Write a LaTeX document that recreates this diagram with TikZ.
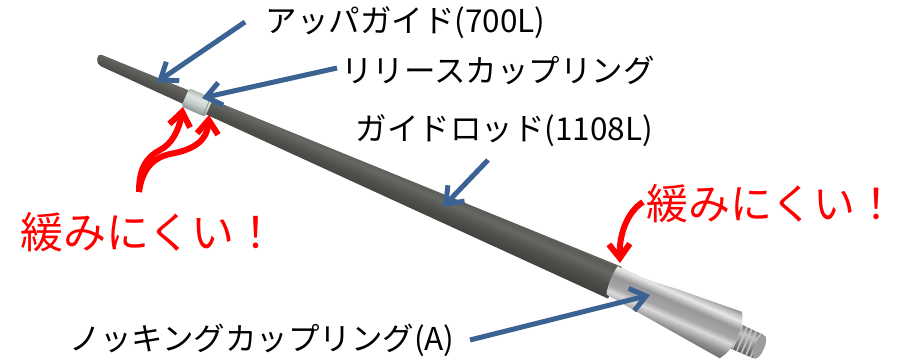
\documentclass[tikz,border=0pt]{standalone}
\usepackage{fontspec}
\newfontfamily\jp{Noto Sans CJK JP}
\usetikzlibrary{arrows.meta}
\definecolor{arrblue}{HTML}{3A6292}
\definecolor{arrred}{HTML}{FF0000}
% carbon rod colours
\definecolor{cA}{HTML}{3F403D}
\definecolor{cB}{HTML}{4F504C}
\definecolor{cC}{HTML}{676864}
\definecolor{cD}{HTML}{5B5C58}
\definecolor{cE}{HTML}{62635F}
% ring colours
\definecolor{rA}{HTML}{8A9593}
\definecolor{rB}{HTML}{C6D0CE}
\definecolor{rC}{HTML}{DEE5E3}
\definecolor{rD}{HTML}{AEB8B6}
% metal colours
\definecolor{mA}{HTML}{6E6E6E}
\definecolor{mB}{HTML}{8C8C8C}
\definecolor{mC}{HTML}{DADADA}
\definecolor{mD}{HTML}{A6A6A6}
\definecolor{mE}{HTML}{989898}
\definecolor{mF}{HTML}{E8E8E8}
\definecolor{mG}{HTML}{B4B4B4}
\definecolor{mH}{HTML}{8E8E8E}
% thread colours
\definecolor{tA}{HTML}{5A5A5A}
\definecolor{tB}{HTML}{9C9C9C}
\definecolor{tC}{HTML}{C4C4C4}
\definecolor{tD}{HTML}{6E6E6E}
\pgfdeclareverticalshading{carbon}{100bp}{color(0bp)=(cA); color(25bp)=(cA); color(45bp)=(cB); color(60bp)=(cC); color(70bp)=(cD); color(75bp)=(cE); color(100bp)=(cE)}
\pgfdeclareverticalshading{ring}{100bp}{color(0bp)=(rA); color(25bp)=(rA); color(45bp)=(rB); color(60bp)=(rC); color(75bp)=(rD); color(100bp)=(rD)}
\pgfdeclareverticalshading{metal}{100bp}{color(0bp)=(mA); color(25bp)=(mA); color(32bp)=(mB); color(42bp)=(mC); color(48bp)=(mD); color(58bp)=(mE); color(66bp)=(mF); color(72bp)=(mG); color(75bp)=(mH); color(100bp)=(mH)}
\pgfdeclareverticalshading{thread}{100bp}{color(0bp)=(tA); color(25bp)=(tA); color(50bp)=(tB); color(60bp)=(tC); color(75bp)=(tD); color(100bp)=(tD)}
\tikzset{
  lbl/.style={font=\jp\fontsize{31.5}{36}\selectfont, inner sep=0pt, text=black, anchor=west},
  redlbl/.style={font=\jp\fontsize{43}{48}\selectfont, inner sep=0pt, text=arrred, anchor=west},
  redlblr/.style={font=\jp\fontsize{42}{48}\selectfont, inner sep=0pt, text=arrred, anchor=west},
  bluearr/.style={draw=arrblue, line width=5pt, -{Straight Barb[length=15pt,width=23pt]}},
  redarr/.style={draw=arrred, line width=6pt, -{Straight Barb[length=14pt,width=21pt]}},
  ridge/.style={draw=tC, line width=1.6pt},
  ringline/.style={draw=rA, line width=0.8pt},
}
\begin{document}
\begin{tikzpicture}[x=1pt,y=-1pt]
\fill[white] (0,0) rectangle (899,360);
\useasboundingbox (0,0) rectangle (899,360);

% ---- the rod, drawn in a frame along its axis ----
\begin{scope}[transform canvas={shift={(99,60)},rotate=-23.4}]
  \shade[shading=carbon] (0,-5.8) -- (562,-17.8) -- (562,16.8) -- (4,5)
        .. controls (-2,5.2) and (-5,-5.6) .. (0,-5.8);
  \shade[shading=ring, rounded corners=2.5pt] (94,-10) rectangle (120,10);
  \draw[ringline] (117.5,-9.5) -- (117.5,9.5);
  % thread
  \shade[shading=thread] (686,-12.7) -- (719,-11.6) -- (719,13.8) -- (686,14) -- cycle;
  \foreach \s in {696,701,...,716} \draw[ridge] (\s,-12.3) -- (\s,13.6);
  \fill[tB] (720,1.1) ellipse [x radius=5, y radius=12.7];
  % knocking coupling body
  \shade[shading=metal] (558,-16.8) -- (583,-16.2)
        .. controls (595,-16.2) and (605,-17.5) .. (620,-19.3) -- (690,-24.2)
        .. controls (699,-12) and (698,15) .. (688,27.2) -- (559,13.8)
        .. controls (556,5) and (556,-8) .. (558,-16.8) -- cycle;
\end{scope}

% ---- labels ----
\node[lbl] (t1) at (265.5,23) {アッパガイド(700L)};
\node[lbl] (t2) at (341,70) {リリースカップリング};
\node[lbl] (t3) at (355.5,131) {ガイドロッド(1108L)};
\node[lbl] (t4) at (69,340) {ノッキングカップリング(A)};
\node[redlbl] (r1) at (20,232) {緩みにくい！};
\node[redlblr] (r2) at (646,204) {緩みにくい！};

% ---- blue arrows ----
\coordinate (a1s) at (245,22);  \coordinate (a1e) at (157,82);
\coordinate (a2s) at (337,68);  \coordinate (a2e) at (202,98);
\coordinate (a3s) at (488,160); \coordinate (a3e) at (443,207);
\coordinate (a4s) at (470,340); \coordinate (a4e) at (650,295);
\draw[bluearr] (a1s) -- (a1e);
\draw[bluearr] (a2s) -- (a2e);
\draw[bluearr] (a3s) -- (a3e);
\draw[bluearr] (a4s) -- (a4e);

% ---- red arrows ----
\coordinate (rb) at (139,192);
\coordinate (rtl) at (183,107);
\coordinate (rtr) at (209,115);
\coordinate (rs2) at (643,202);
\coordinate (rt2) at (620,263);
\draw[redarr] (rb) .. controls (139,170) and (145,158) .. (160,150)
      .. controls (172,144) and (179,130) .. (rtl);
\draw[redarr] (rb) .. controls (142,170) and (152,158) .. (170,154)
      .. controls (192,150) and (207,142) .. (rtr);
\draw[redarr] (rs2) .. controls (627,212) and (619,235) .. (rt2);
\end{tikzpicture}
\end{document}
